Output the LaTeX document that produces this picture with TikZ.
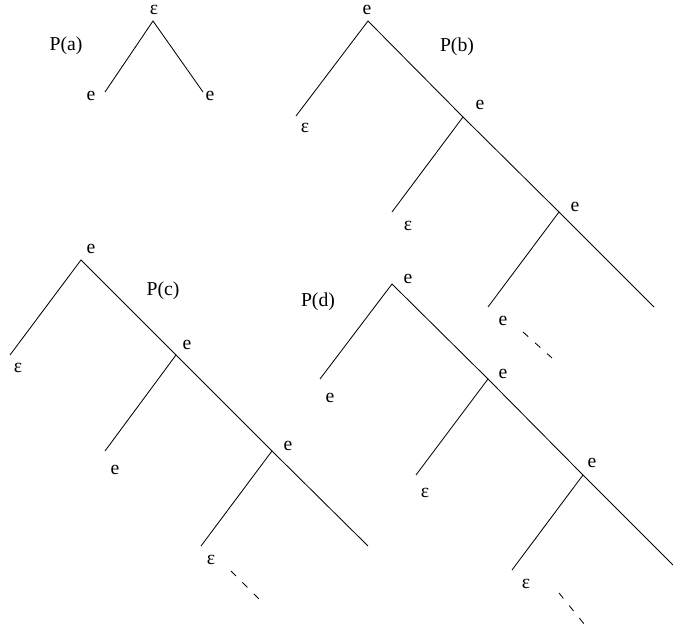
\documentclass[tikz,border=0pt]{standalone}
\usepackage{fontspec}
\setmainfont{Liberation Serif}
\usetikzlibrary{positioning}

\begin{document}
\begin{tikzpicture}[x=0.025cm,y=-0.025cm,line width=0.6pt,
	every node/.style={font=\fontsize{14}{16}\selectfont,inner sep=0pt},
	etc/.style={dash pattern=on 5pt off 6.5pt}]
	\useasboundingbox (0,0) rectangle (673,636);

	% P(a)
	\coordinate (a0) at (153,21);
	\coordinate (a1) at (105,92);
	\coordinate (a2) at (203,92);
	\node (pa) at (66,46) {P(a)};
	\node (la0) at (154,10) {ε};
	\node (la1) at (91,96) {e};
	\node (la2) at (210,96) {e};
	\draw (a1) -- (a0) -- (a2);

	% P(b)
	\coordinate (b0) at (368,21);
	\coordinate (b1) at (296,116);
	\coordinate (b2) at (463,117);
	\coordinate (b3) at (392,212);
	\coordinate (b4) at (559,212);
	\coordinate (b5) at (488,307);
	\coordinate (b6) at (654,307);
	\coordinate (b7) at (523,332);
	\coordinate (b8) at (552,358);
	\node (pb) at (457,47) {P(b)};
	\node (lb0) at (367,10) {e};
	\node (lb1) at (305,128) {ε};
	\node (lb2) at (480,105) {e};
	\node (lb3) at (408,226) {ε};
	\node (lb4) at (575,207) {e};
	\node (lb5) at (503,321) {e};
	\draw (b1) -- (b0) -- (b2) -- (b4) -- (b6);
	\draw (b2) -- (b3);
	\draw (b4) -- (b5);
	\draw[etc] (b7) -- (b8);

	% P(c)
	\coordinate (c0) at (81,260);
	\coordinate (c1) at (10,355);
	\coordinate (c2) at (176,355);
	\coordinate (c3) at (105,451);
	\coordinate (c4) at (272,451);
	\coordinate (c5) at (201,546);
	\coordinate (c6) at (368,546);
	\coordinate (c7) at (231,571);
	\coordinate (c8) at (260,600);
	\node (pc) at (163,291) {P(c)};
	\node (lc0) at (91,249) {e};
	\node (lc1) at (18,368) {ε};
	\node (lc2) at (187,345) {e};
	\node (lc3) at (115,470) {e};
	\node (lc4) at (288,446) {e};
	\node (lc5) at (211,560) {ε};
	\draw (c1) -- (c0) -- (c2) -- (c4) -- (c6);
	\draw (c2) -- (c3);
	\draw (c4) -- (c5);
	\draw[etc] (c7) -- (c8);

	% P(d)
	\coordinate (d0) at (392,284);
	\coordinate (d1) at (320,379);
	\coordinate (d2) at (488,379);
	\coordinate (d3) at (416,475);
	\coordinate (d4) at (583,475);
	\coordinate (d5) at (512,570);
	\coordinate (d6) at (673,565);
	\coordinate (d7) at (559,593);
	\coordinate (d8) at (589,630);
	\node (pd) at (318,302) {P(d)};
	\node (ld0) at (408,279) {e};
	\node (ld1) at (330,398) {e};
	\node (ld2) at (503,374) {e};
	\node (ld3) at (425,493) {ε};
	\node (ld4) at (592,463) {e};
	\node (ld5) at (526,584) {ε};
	\draw (d1) -- (d0) -- (d2) -- (d4) -- (d6);
	\draw (d2) -- (d3);
	\draw (d4) -- (d5);
	\draw[etc] (d7) -- (d8);
\end{tikzpicture}
\end{document}
